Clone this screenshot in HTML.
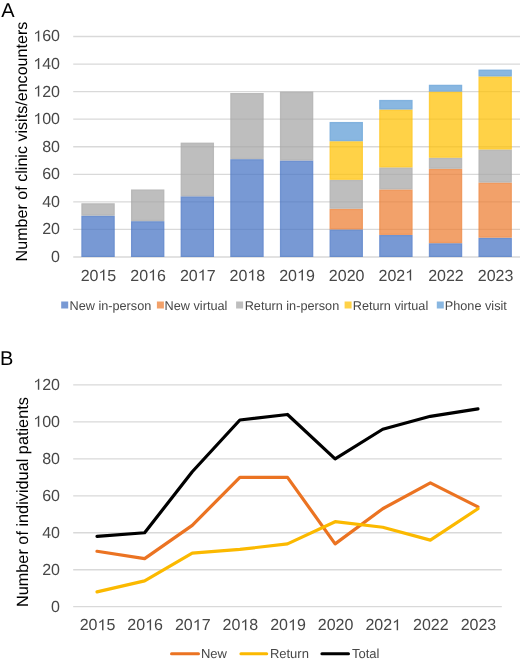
<!DOCTYPE html><html><head><meta charset="utf-8"><style>html,body{margin:0;padding:0;background:#fff;width:520px;height:662px;overflow:hidden}svg{display:block;text-rendering:geometricPrecision;will-change:transform}</style></head><body>
<svg width="520" height="662" viewBox="0 0 520 662">
<rect width="520" height="662" fill="#fff"/>
<text x="1.3" y="16.7" font-family="Liberation Sans, sans-serif" font-size="20" fill="#000">A</text>
<line x1="73.23" y1="257.00" x2="520" y2="257.00" stroke="#D9D9D9" stroke-width="1.3"/>
<text x="51.10" y="261.90" font-family="Liberation Sans, sans-serif" font-size="16" fill="#474747">0</text>
<line x1="73.23" y1="229.44" x2="520" y2="229.44" stroke="#D9D9D9" stroke-width="1.3"/>
<text x="42.20 51.10" y="234.34" font-family="Liberation Sans, sans-serif" font-size="16" fill="#474747">20</text>
<line x1="73.23" y1="201.88" x2="520" y2="201.88" stroke="#D9D9D9" stroke-width="1.3"/>
<text x="42.20 51.10" y="206.78" font-family="Liberation Sans, sans-serif" font-size="16" fill="#474747">40</text>
<line x1="73.23" y1="174.31" x2="520" y2="174.31" stroke="#D9D9D9" stroke-width="1.3"/>
<text x="42.20 51.10" y="179.21" font-family="Liberation Sans, sans-serif" font-size="16" fill="#474747">60</text>
<line x1="73.23" y1="146.75" x2="520" y2="146.75" stroke="#D9D9D9" stroke-width="1.3"/>
<text x="42.20 51.10" y="151.65" font-family="Liberation Sans, sans-serif" font-size="16" fill="#474747">80</text>
<line x1="73.23" y1="119.19" x2="520" y2="119.19" stroke="#D9D9D9" stroke-width="1.3"/>
<path d="M583 0H763V1409H646Q596 1311 498 1229Q400 1147 222 1090V930Q322 965 420 1030Q518 1090 583 1147Z" transform="translate(33.30,124.09) scale(0.00781,-0.00781)" fill="#474747"/><text x="42.20 51.10" y="124.09" font-family="Liberation Sans, sans-serif" font-size="16" fill="#474747">00</text>
<line x1="73.23" y1="91.62" x2="520" y2="91.62" stroke="#D9D9D9" stroke-width="1.3"/>
<path d="M583 0H763V1409H646Q596 1311 498 1229Q400 1147 222 1090V930Q322 965 420 1030Q518 1090 583 1147Z" transform="translate(33.30,96.53) scale(0.00781,-0.00781)" fill="#474747"/><text x="42.20 51.10" y="96.53" font-family="Liberation Sans, sans-serif" font-size="16" fill="#474747">20</text>
<line x1="73.23" y1="64.06" x2="520" y2="64.06" stroke="#D9D9D9" stroke-width="1.3"/>
<path d="M583 0H763V1409H646Q596 1311 498 1229Q400 1147 222 1090V930Q322 965 420 1030Q518 1090 583 1147Z" transform="translate(33.30,68.96) scale(0.00781,-0.00781)" fill="#474747"/><text x="42.20 51.10" y="68.96" font-family="Liberation Sans, sans-serif" font-size="16" fill="#474747">40</text>
<line x1="73.23" y1="36.50" x2="520" y2="36.50" stroke="#D9D9D9" stroke-width="1.3"/>
<path d="M583 0H763V1409H646Q596 1311 498 1229Q400 1147 222 1090V930Q322 965 420 1030Q518 1090 583 1147Z" transform="translate(33.30,41.40) scale(0.00781,-0.00781)" fill="#474747"/><text x="42.20 51.10" y="41.40" font-family="Liberation Sans, sans-serif" font-size="16" fill="#474747">60</text>
<rect x="81.35" y="215.66" width="33.4" height="41.34" fill="#4472C4" fill-opacity="0.72"/>
<rect x="82.20" y="216.51" width="31.70" height="39.64" fill="none" stroke="#4472C4" stroke-opacity="0.2" stroke-width="1.1"/>
<rect x="81.35" y="203.25" width="33.4" height="12.40" fill="#A5A5A5" fill-opacity="0.72"/>
<rect x="82.20" y="204.10" width="31.70" height="10.70" fill="none" stroke="#A5A5A5" stroke-opacity="0.2" stroke-width="1.1"/>
<rect x="130.99" y="221.17" width="33.4" height="35.83" fill="#4472C4" fill-opacity="0.72"/>
<rect x="131.84" y="222.02" width="31.70" height="34.13" fill="none" stroke="#4472C4" stroke-opacity="0.2" stroke-width="1.1"/>
<rect x="130.99" y="189.47" width="33.4" height="31.70" fill="#A5A5A5" fill-opacity="0.72"/>
<rect x="131.84" y="190.32" width="31.70" height="30.00" fill="none" stroke="#A5A5A5" stroke-opacity="0.2" stroke-width="1.1"/>
<rect x="180.63" y="196.36" width="33.4" height="60.64" fill="#4472C4" fill-opacity="0.72"/>
<rect x="181.48" y="197.21" width="31.70" height="58.94" fill="none" stroke="#4472C4" stroke-opacity="0.2" stroke-width="1.1"/>
<rect x="180.63" y="142.62" width="33.4" height="53.75" fill="#A5A5A5" fill-opacity="0.72"/>
<rect x="181.48" y="143.47" width="31.70" height="52.05" fill="none" stroke="#A5A5A5" stroke-opacity="0.2" stroke-width="1.1"/>
<rect x="230.27" y="159.15" width="33.4" height="97.85" fill="#4472C4" fill-opacity="0.72"/>
<rect x="231.12" y="160.00" width="31.70" height="96.15" fill="none" stroke="#4472C4" stroke-opacity="0.2" stroke-width="1.1"/>
<rect x="230.27" y="93.00" width="33.4" height="66.15" fill="#A5A5A5" fill-opacity="0.72"/>
<rect x="231.12" y="93.85" width="31.70" height="64.45" fill="none" stroke="#A5A5A5" stroke-opacity="0.2" stroke-width="1.1"/>
<rect x="279.91" y="160.53" width="33.4" height="96.47" fill="#4472C4" fill-opacity="0.72"/>
<rect x="280.76" y="161.38" width="31.70" height="94.77" fill="none" stroke="#4472C4" stroke-opacity="0.2" stroke-width="1.1"/>
<rect x="279.91" y="91.62" width="33.4" height="68.91" fill="#A5A5A5" fill-opacity="0.72"/>
<rect x="280.76" y="92.47" width="31.70" height="67.21" fill="none" stroke="#A5A5A5" stroke-opacity="0.2" stroke-width="1.1"/>
<rect x="329.55" y="229.44" width="33.4" height="27.56" fill="#4472C4" fill-opacity="0.72"/>
<rect x="330.40" y="230.29" width="31.70" height="25.86" fill="none" stroke="#4472C4" stroke-opacity="0.2" stroke-width="1.1"/>
<rect x="329.55" y="208.77" width="33.4" height="20.67" fill="#ED7D31" fill-opacity="0.72"/>
<rect x="330.40" y="209.62" width="31.70" height="18.97" fill="none" stroke="#ED7D31" stroke-opacity="0.2" stroke-width="1.1"/>
<rect x="329.55" y="179.82" width="33.4" height="28.94" fill="#A5A5A5" fill-opacity="0.72"/>
<rect x="330.40" y="180.67" width="31.70" height="27.24" fill="none" stroke="#A5A5A5" stroke-opacity="0.2" stroke-width="1.1"/>
<rect x="329.55" y="141.24" width="33.4" height="38.59" fill="#FFC000" fill-opacity="0.72"/>
<rect x="330.40" y="142.09" width="31.70" height="36.89" fill="none" stroke="#FFC000" stroke-opacity="0.2" stroke-width="1.1"/>
<rect x="329.55" y="121.94" width="33.4" height="19.29" fill="#5B9BD5" fill-opacity="0.72"/>
<rect x="330.40" y="122.79" width="31.70" height="17.59" fill="none" stroke="#5B9BD5" stroke-opacity="0.2" stroke-width="1.1"/>
<rect x="379.19" y="234.95" width="33.4" height="22.05" fill="#4472C4" fill-opacity="0.72"/>
<rect x="380.04" y="235.80" width="31.70" height="20.35" fill="none" stroke="#4472C4" stroke-opacity="0.2" stroke-width="1.1"/>
<rect x="379.19" y="189.47" width="33.4" height="45.48" fill="#ED7D31" fill-opacity="0.72"/>
<rect x="380.04" y="190.32" width="31.70" height="43.78" fill="none" stroke="#ED7D31" stroke-opacity="0.2" stroke-width="1.1"/>
<rect x="379.19" y="167.42" width="33.4" height="22.05" fill="#A5A5A5" fill-opacity="0.72"/>
<rect x="380.04" y="168.27" width="31.70" height="20.35" fill="none" stroke="#A5A5A5" stroke-opacity="0.2" stroke-width="1.1"/>
<rect x="379.19" y="109.54" width="33.4" height="57.88" fill="#FFC000" fill-opacity="0.72"/>
<rect x="380.04" y="110.39" width="31.70" height="56.18" fill="none" stroke="#FFC000" stroke-opacity="0.2" stroke-width="1.1"/>
<rect x="379.19" y="99.89" width="33.4" height="9.65" fill="#5B9BD5" fill-opacity="0.72"/>
<rect x="380.04" y="100.74" width="31.70" height="7.95" fill="none" stroke="#5B9BD5" stroke-opacity="0.2" stroke-width="1.1"/>
<rect x="428.83" y="243.22" width="33.4" height="13.78" fill="#4472C4" fill-opacity="0.72"/>
<rect x="429.68" y="244.07" width="31.70" height="12.08" fill="none" stroke="#4472C4" stroke-opacity="0.2" stroke-width="1.1"/>
<rect x="428.83" y="168.80" width="33.4" height="74.42" fill="#ED7D31" fill-opacity="0.72"/>
<rect x="429.68" y="169.65" width="31.70" height="72.72" fill="none" stroke="#ED7D31" stroke-opacity="0.2" stroke-width="1.1"/>
<rect x="428.83" y="157.77" width="33.4" height="11.03" fill="#A5A5A5" fill-opacity="0.72"/>
<rect x="429.68" y="158.62" width="31.70" height="9.33" fill="none" stroke="#A5A5A5" stroke-opacity="0.2" stroke-width="1.1"/>
<rect x="428.83" y="91.62" width="33.4" height="66.15" fill="#FFC000" fill-opacity="0.72"/>
<rect x="429.68" y="92.47" width="31.70" height="64.45" fill="none" stroke="#FFC000" stroke-opacity="0.2" stroke-width="1.1"/>
<rect x="428.83" y="84.73" width="33.4" height="6.89" fill="#5B9BD5" fill-opacity="0.72"/>
<rect x="429.68" y="85.58" width="31.70" height="5.19" fill="none" stroke="#5B9BD5" stroke-opacity="0.2" stroke-width="1.1"/>
<rect x="478.47" y="237.71" width="33.4" height="19.29" fill="#4472C4" fill-opacity="0.72"/>
<rect x="479.32" y="238.56" width="31.70" height="17.59" fill="none" stroke="#4472C4" stroke-opacity="0.2" stroke-width="1.1"/>
<rect x="478.47" y="182.58" width="33.4" height="55.12" fill="#ED7D31" fill-opacity="0.72"/>
<rect x="479.32" y="183.43" width="31.70" height="53.42" fill="none" stroke="#ED7D31" stroke-opacity="0.2" stroke-width="1.1"/>
<rect x="478.47" y="149.51" width="33.4" height="33.08" fill="#A5A5A5" fill-opacity="0.72"/>
<rect x="479.32" y="150.36" width="31.70" height="31.38" fill="none" stroke="#A5A5A5" stroke-opacity="0.2" stroke-width="1.1"/>
<rect x="478.47" y="76.47" width="33.4" height="73.04" fill="#FFC000" fill-opacity="0.72"/>
<rect x="479.32" y="77.32" width="31.70" height="71.34" fill="none" stroke="#FFC000" stroke-opacity="0.2" stroke-width="1.1"/>
<rect x="478.47" y="69.57" width="33.4" height="6.89" fill="#5B9BD5" fill-opacity="0.72"/>
<rect x="479.32" y="70.42" width="31.70" height="5.19" fill="none" stroke="#5B9BD5" stroke-opacity="0.2" stroke-width="1.1"/>
<path d="M583 0H763V1409H646Q596 1311 498 1229Q400 1147 222 1090V930Q322 965 420 1030Q518 1090 583 1147Z" transform="translate(98.45,280.60) scale(0.00781,-0.00781)" fill="#474747"/><text x="80.65 89.55 107.35" y="280.60" font-family="Liberation Sans, sans-serif" font-size="16" fill="#474747">205</text>
<path d="M583 0H763V1409H646Q596 1311 498 1229Q400 1147 222 1090V930Q322 965 420 1030Q518 1090 583 1147Z" transform="translate(148.09,280.60) scale(0.00781,-0.00781)" fill="#474747"/><text x="130.29 139.19 156.99" y="280.60" font-family="Liberation Sans, sans-serif" font-size="16" fill="#474747">206</text>
<path d="M583 0H763V1409H646Q596 1311 498 1229Q400 1147 222 1090V930Q322 965 420 1030Q518 1090 583 1147Z" transform="translate(197.73,280.60) scale(0.00781,-0.00781)" fill="#474747"/><text x="179.93 188.83 206.63" y="280.60" font-family="Liberation Sans, sans-serif" font-size="16" fill="#474747">207</text>
<path d="M583 0H763V1409H646Q596 1311 498 1229Q400 1147 222 1090V930Q322 965 420 1030Q518 1090 583 1147Z" transform="translate(247.37,280.60) scale(0.00781,-0.00781)" fill="#474747"/><text x="229.57 238.47 256.27" y="280.60" font-family="Liberation Sans, sans-serif" font-size="16" fill="#474747">208</text>
<path d="M583 0H763V1409H646Q596 1311 498 1229Q400 1147 222 1090V930Q322 965 420 1030Q518 1090 583 1147Z" transform="translate(297.01,280.60) scale(0.00781,-0.00781)" fill="#474747"/><text x="279.21 288.11 305.91" y="280.60" font-family="Liberation Sans, sans-serif" font-size="16" fill="#474747">209</text>
<text x="328.85 337.75 346.65 355.55" y="280.60" font-family="Liberation Sans, sans-serif" font-size="16" fill="#474747">2020</text>
<path d="M583 0H763V1409H646Q596 1311 498 1229Q400 1147 222 1090V930Q322 965 420 1030Q518 1090 583 1147Z" transform="translate(405.19,280.60) scale(0.00781,-0.00781)" fill="#474747"/><text x="378.49 387.39 396.29" y="280.60" font-family="Liberation Sans, sans-serif" font-size="16" fill="#474747">202</text>
<text x="428.13 437.03 445.93 454.83" y="280.60" font-family="Liberation Sans, sans-serif" font-size="16" fill="#474747">2022</text>
<text x="477.77 486.67 495.57 504.47" y="280.60" font-family="Liberation Sans, sans-serif" font-size="16" fill="#474747">2023</text>
<text transform="translate(26.9,261.4) rotate(-90)" font-family="Liberation Sans, sans-serif" font-size="16.1" fill="#000" x="0" y="0">Number of clinic visits/encounters</text>
<rect x="61.2" y="301.5" width="7" height="7" fill="#4472C4" opacity="0.72"/>
<text x="69.5" y="309.5" font-family="Liberation Sans, sans-serif" font-size="12.7" fill="#474747">New in-person</text>
<rect x="156.9" y="301.5" width="7" height="7" fill="#ED7D31" opacity="0.72"/>
<text x="164.6" y="309.5" font-family="Liberation Sans, sans-serif" font-size="12.7" fill="#474747">New virtual</text>
<rect x="236.1" y="301.5" width="7" height="7" fill="#A5A5A5" opacity="0.72"/>
<text x="244.7" y="309.5" font-family="Liberation Sans, sans-serif" font-size="12.7" fill="#474747">Return in-person</text>
<rect x="344.6" y="301.5" width="7" height="7" fill="#FFC000" opacity="0.72"/>
<text x="352.8" y="309.5" font-family="Liberation Sans, sans-serif" font-size="12.7" fill="#474747">Return virtual</text>
<rect x="436.8" y="301.5" width="7" height="7" fill="#5B9BD5" opacity="0.72"/>
<text x="444.8" y="309.5" font-family="Liberation Sans, sans-serif" font-size="12.7" fill="#474747">Phone visit</text>
<text x="0" y="365.2" font-family="Liberation Sans, sans-serif" font-size="20" fill="#000">B</text>
<line x1="73.2" y1="606.70" x2="501.8" y2="606.70" stroke="#D9D9D9" stroke-width="1.3"/>
<text x="51.10" y="611.60" font-family="Liberation Sans, sans-serif" font-size="16" fill="#474747">0</text>
<line x1="73.2" y1="569.73" x2="501.8" y2="569.73" stroke="#D9D9D9" stroke-width="1.3"/>
<text x="42.20 51.10" y="574.63" font-family="Liberation Sans, sans-serif" font-size="16" fill="#474747">20</text>
<line x1="73.2" y1="532.77" x2="501.8" y2="532.77" stroke="#D9D9D9" stroke-width="1.3"/>
<text x="42.20 51.10" y="537.67" font-family="Liberation Sans, sans-serif" font-size="16" fill="#474747">40</text>
<line x1="73.2" y1="495.80" x2="501.8" y2="495.80" stroke="#D9D9D9" stroke-width="1.3"/>
<text x="42.20 51.10" y="500.70" font-family="Liberation Sans, sans-serif" font-size="16" fill="#474747">60</text>
<line x1="73.2" y1="458.83" x2="501.8" y2="458.83" stroke="#D9D9D9" stroke-width="1.3"/>
<text x="42.20 51.10" y="463.73" font-family="Liberation Sans, sans-serif" font-size="16" fill="#474747">80</text>
<line x1="73.2" y1="421.87" x2="501.8" y2="421.87" stroke="#D9D9D9" stroke-width="1.3"/>
<path d="M583 0H763V1409H646Q596 1311 498 1229Q400 1147 222 1090V930Q322 965 420 1030Q518 1090 583 1147Z" transform="translate(33.30,426.77) scale(0.00781,-0.00781)" fill="#474747"/><text x="42.20 51.10" y="426.77" font-family="Liberation Sans, sans-serif" font-size="16" fill="#474747">00</text>
<line x1="73.2" y1="384.90" x2="501.8" y2="384.90" stroke="#D9D9D9" stroke-width="1.3"/>
<path d="M583 0H763V1409H646Q596 1311 498 1229Q400 1147 222 1090V930Q322 965 420 1030Q518 1090 583 1147Z" transform="translate(33.30,389.80) scale(0.00781,-0.00781)" fill="#474747"/><text x="42.20 51.10" y="389.80" font-family="Liberation Sans, sans-serif" font-size="16" fill="#474747">20</text>
<polyline points="97.01,551.25 144.63,558.64 192.25,525.37 239.87,477.32 287.49,477.32 335.11,543.86 382.73,508.74 430.35,482.86 477.97,506.89" fill="none" stroke="#EB7322" stroke-width="3.2" stroke-linejoin="round" stroke-linecap="round"/>
<polyline points="97.01,591.91 144.63,580.82 192.25,553.10 239.87,549.40 287.49,543.86 335.11,521.68 382.73,527.22 430.35,540.16 477.97,508.74" fill="none" stroke="#FBB900" stroke-width="3.2" stroke-linejoin="round" stroke-linecap="round"/>
<polyline points="97.01,536.46 144.63,532.77 192.25,471.77 239.87,420.02 287.49,414.47 335.11,458.83 382.73,429.26 430.35,416.32 477.97,408.93" fill="none" stroke="#000000" stroke-width="3.2" stroke-linejoin="round" stroke-linecap="round"/>
<path d="M583 0H763V1409H646Q596 1311 498 1229Q400 1147 222 1090V930Q322 965 420 1030Q518 1090 583 1147Z" transform="translate(97.51,630.20) scale(0.00781,-0.00781)" fill="#474747"/><text x="79.71 88.61 106.41" y="630.20" font-family="Liberation Sans, sans-serif" font-size="16" fill="#474747">205</text>
<path d="M583 0H763V1409H646Q596 1311 498 1229Q400 1147 222 1090V930Q322 965 420 1030Q518 1090 583 1147Z" transform="translate(145.13,630.20) scale(0.00781,-0.00781)" fill="#474747"/><text x="127.33 136.23 154.03" y="630.20" font-family="Liberation Sans, sans-serif" font-size="16" fill="#474747">206</text>
<path d="M583 0H763V1409H646Q596 1311 498 1229Q400 1147 222 1090V930Q322 965 420 1030Q518 1090 583 1147Z" transform="translate(192.75,630.20) scale(0.00781,-0.00781)" fill="#474747"/><text x="174.95 183.85 201.65" y="630.20" font-family="Liberation Sans, sans-serif" font-size="16" fill="#474747">207</text>
<path d="M583 0H763V1409H646Q596 1311 498 1229Q400 1147 222 1090V930Q322 965 420 1030Q518 1090 583 1147Z" transform="translate(240.37,630.20) scale(0.00781,-0.00781)" fill="#474747"/><text x="222.57 231.47 249.27" y="630.20" font-family="Liberation Sans, sans-serif" font-size="16" fill="#474747">208</text>
<path d="M583 0H763V1409H646Q596 1311 498 1229Q400 1147 222 1090V930Q322 965 420 1030Q518 1090 583 1147Z" transform="translate(287.99,630.20) scale(0.00781,-0.00781)" fill="#474747"/><text x="270.19 279.09 296.89" y="630.20" font-family="Liberation Sans, sans-serif" font-size="16" fill="#474747">209</text>
<text x="317.81 326.71 335.61 344.51" y="630.20" font-family="Liberation Sans, sans-serif" font-size="16" fill="#474747">2020</text>
<path d="M583 0H763V1409H646Q596 1311 498 1229Q400 1147 222 1090V930Q322 965 420 1030Q518 1090 583 1147Z" transform="translate(392.13,630.20) scale(0.00781,-0.00781)" fill="#474747"/><text x="365.43 374.33 383.23" y="630.20" font-family="Liberation Sans, sans-serif" font-size="16" fill="#474747">202</text>
<text x="413.05 421.95 430.85 439.75" y="630.20" font-family="Liberation Sans, sans-serif" font-size="16" fill="#474747">2022</text>
<text x="460.67 469.57 478.47 487.37" y="630.20" font-family="Liberation Sans, sans-serif" font-size="16" fill="#474747">2023</text>
<text transform="translate(28.3,607.1) rotate(-90)" font-family="Liberation Sans, sans-serif" font-size="16.3" fill="#000" x="0" y="0">Number of individual patients</text>
<line x1="171.5" y1="653.7" x2="198.5" y2="653.7" stroke="#EB7322" stroke-width="3" stroke-linecap="round"/>
<text x="200.9" y="657.8" font-family="Liberation Sans, sans-serif" font-size="13" fill="#474747">New</text>
<line x1="240.9" y1="653.7" x2="266.7" y2="653.7" stroke="#FBB900" stroke-width="3" stroke-linecap="round"/>
<text x="269.9" y="657.8" font-family="Liberation Sans, sans-serif" font-size="13" fill="#474747">Return</text>
<line x1="321.9" y1="653.7" x2="348.5" y2="653.7" stroke="#000000" stroke-width="3" stroke-linecap="round"/>
<text x="352.0" y="657.8" font-family="Liberation Sans, sans-serif" font-size="13" fill="#474747">Total</text>
</svg></body></html>
